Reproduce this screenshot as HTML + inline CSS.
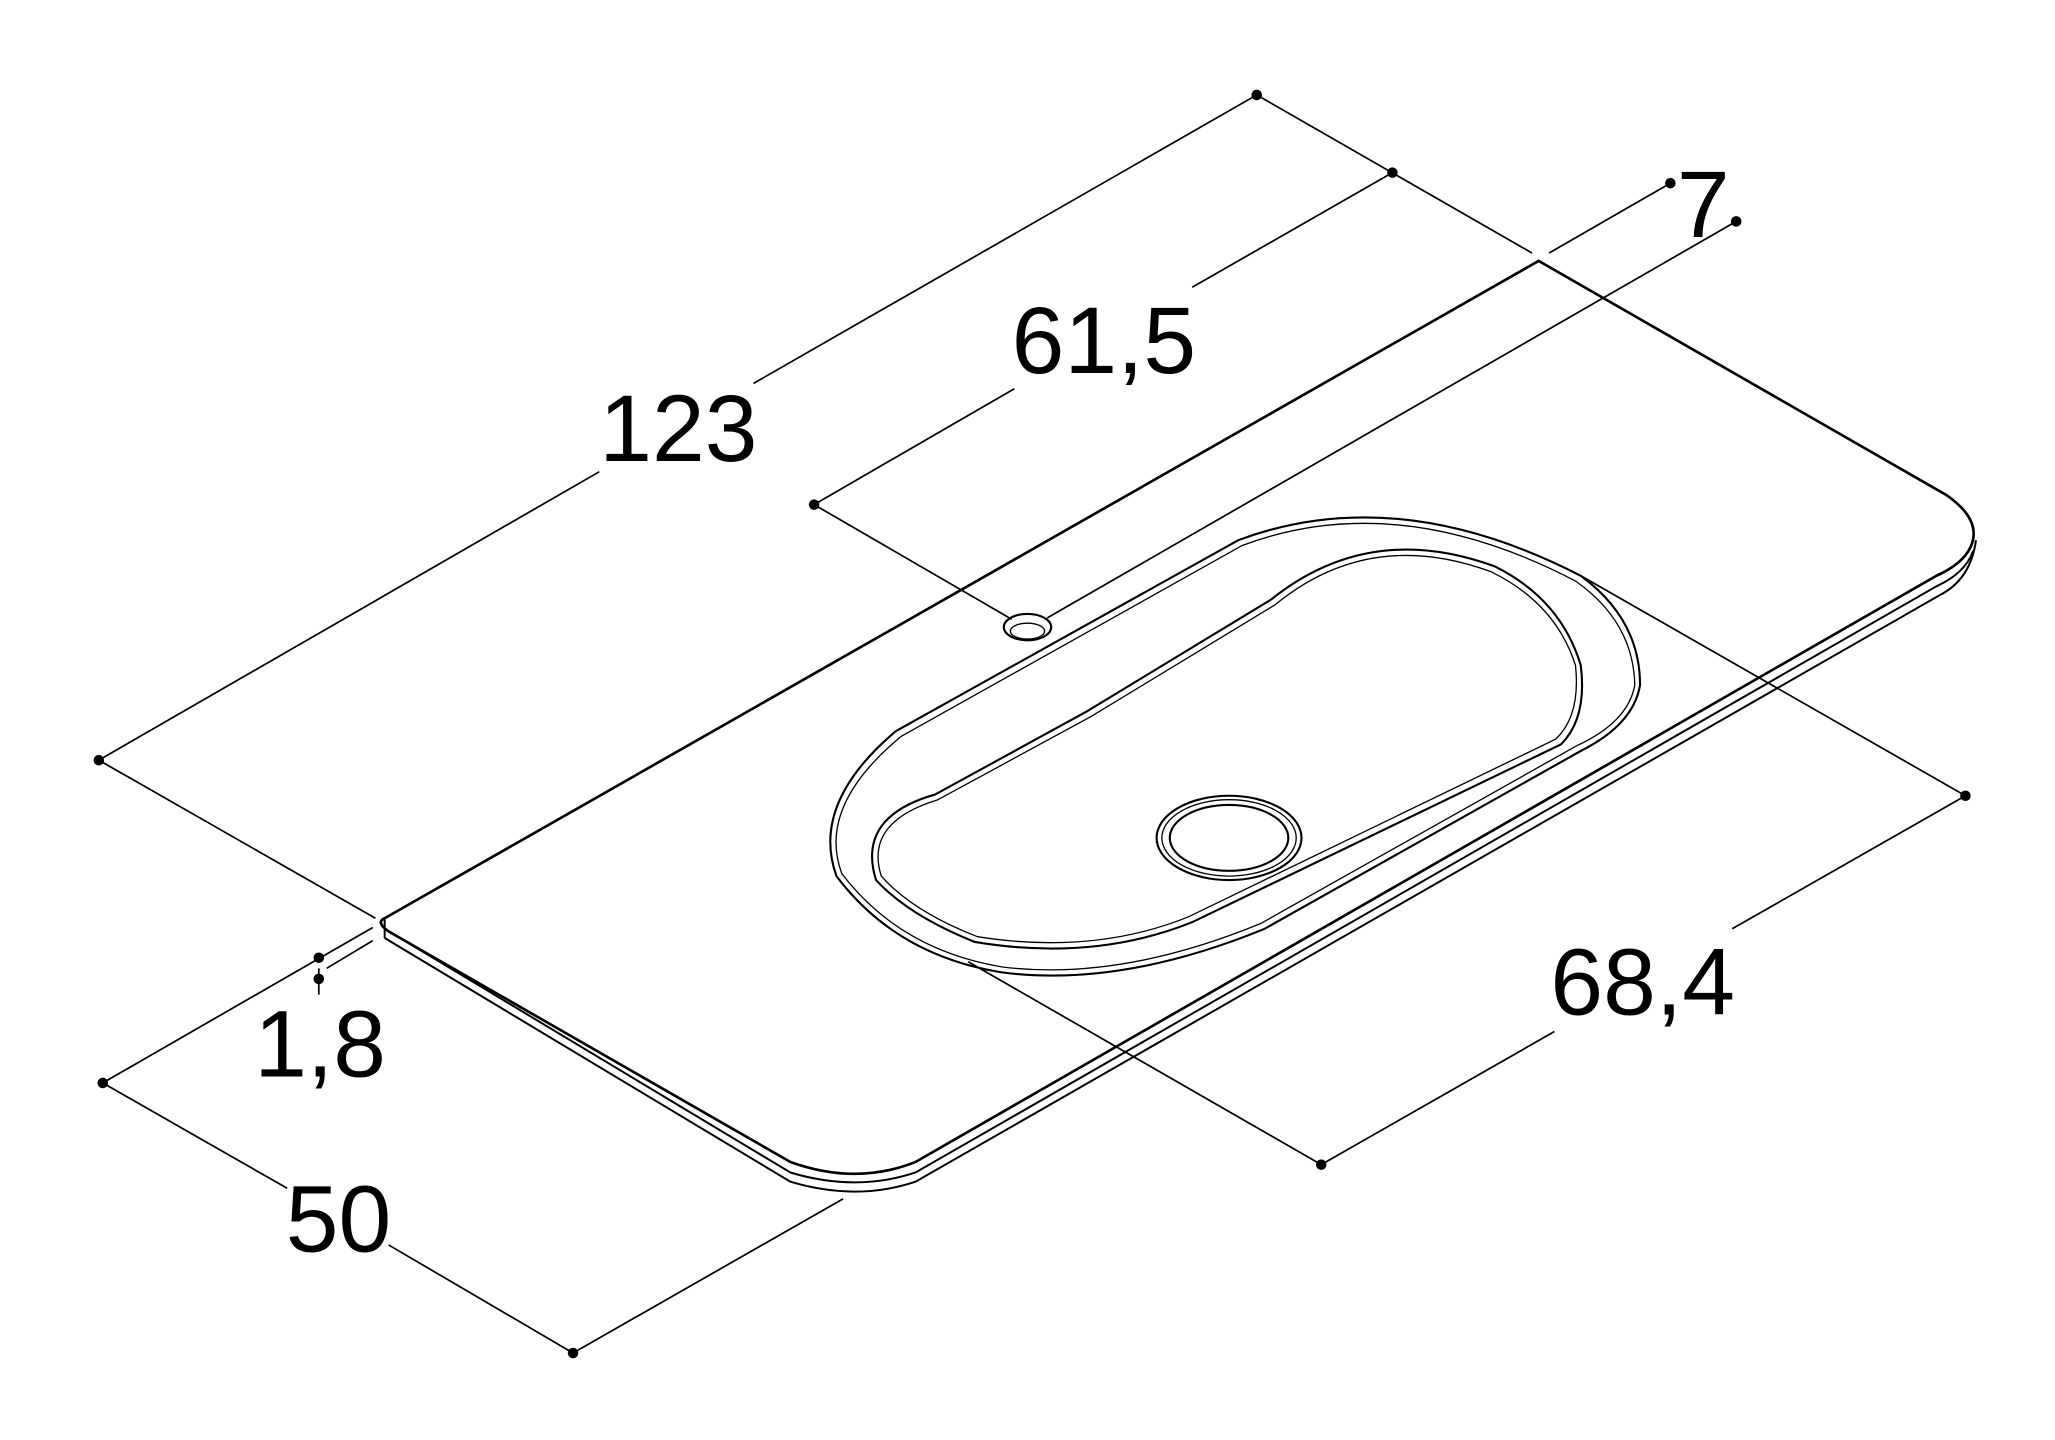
<!DOCTYPE html>
<html><head><style>html,body{margin:0;padding:0;background:#fff}svg{display:block}</style></head>
<body>
<svg width="2055" height="1440" viewBox="0 0 1560 1093" xmlns="http://www.w3.org/2000/svg" font-family="Liberation Sans, sans-serif">
<!-- slab -->
<g stroke="#000" fill="none" stroke-width="2">
<path d="M1168 198 L1478 376 Q1505 395 1496 415 Q1490 428 1470 437 L695 882 Q650 900 600 882 L295 707 Q285 700 292 697 Z"/>
<path d="M292 705 L600 890 Q650 905 695 890 L1470 445 Q1492 435 1498 418" stroke-width="1.5"/>
<path d="M292 712 L600 897 Q650 912 695 897 L1472 452 Q1496 440 1500 410" stroke-width="1.5"/>
<line x1="292" y1="697" x2="292" y2="712" stroke-width="1.5"/>
</g>
<g stroke="#000" fill="none" stroke-width="1.3">
<line x1="954" y1="72" x2="572" y2="291"/><line x1="455" y1="358" x2="75" y2="577"/>
<line x1="954" y1="72" x2="1163" y2="192"/><line x1="75" y1="577" x2="285" y2="697"/>
<line x1="1057" y1="131" x2="905" y2="218"/><line x1="770" y1="295" x2="618" y2="383"/>
<line x1="618" y1="383" x2="768" y2="470"/>
<line x1="1268" y1="139" x2="1176" y2="192"/><line x1="1318" y1="168" x2="795" y2="469"/>
<line x1="1492" y1="604" x2="1315" y2="705"/><line x1="1180" y1="783" x2="1003" y2="884"/>
<line x1="1200" y1="437" x2="1492" y2="604"/><line x1="735" y1="730" x2="1003" y2="884"/>
<line x1="78" y1="822" x2="218" y2="902"/><line x1="295" y1="945" x2="435" y2="1027"/>
<line x1="78" y1="822" x2="283" y2="704"/><line x1="435" y1="1027" x2="640" y2="910"/>
<line x1="242" y1="735" x2="242" y2="755"/><line x1="248" y1="735" x2="283" y2="714"/>
</g>
<g fill="#000">
<circle cx="954" cy="72" r="4"/><circle cx="75" cy="577" r="4"/><circle cx="1057" cy="131" r="4"/>
<circle cx="618" cy="383" r="4"/><circle cx="1268" cy="139" r="4"/><circle cx="1318" cy="168" r="4"/>
<circle cx="1492" cy="604" r="4"/><circle cx="1003" cy="884" r="4"/><circle cx="78" cy="822" r="4"/>
<circle cx="435" cy="1027" r="4"/><circle cx="242" cy="727" r="4"/><circle cx="242" cy="743" r="4"/>
</g>
<!-- basin -->
<g stroke="#000" fill="none" stroke-width="1.6">
<path d="M680 555 L940 410 Q1060 365 1200 437 Q1245 470 1245 520 Q1240 550 1200 570 L960 705 Q850 750 760 738 Q680 725 635 665 Q615 610 680 555 Z"/>
<path d="M684 559 L943 414 Q1060 370 1196 441 Q1240 472 1241 520 Q1236 548 1197 566 L957 701 Q850 745 761 734 Q683 721 639 663 Q620 612 684 559 Z" stroke-width="1"/>
<path d="M965 455 Q1040 395 1135 430 Q1185 455 1200 505 Q1205 545 1185 565 L905 700 Q830 730 740 715 Q690 695 665 668 Q650 620 710 603 L825 540 Z"/>
<path d="M968 459 Q1040 400 1132 434 Q1181 458 1196 505 Q1200 543 1181 561 L902 696 Q830 725 742 711 Q693 692 669 665 Q656 624 712 607 L828 544 Z" stroke-width="1"/>
<ellipse cx="933" cy="636" rx="55" ry="32"/>
<ellipse cx="933" cy="636" rx="51" ry="29" stroke-width="1"/>
<ellipse cx="933" cy="636" rx="45" ry="25"/>
<ellipse cx="780" cy="476" rx="18" ry="10"/>
<ellipse cx="780" cy="479" rx="13" ry="6" stroke-width="1"/>
</g>
<g font-size="72" fill="#000" text-anchor="middle">
<text x="515" y="350">123</text>
<text x="838" y="283">61,5</text>
<text x="1293" y="180">7</text>
<text x="1247" y="770">68,4</text>
<text x="257" y="950">50</text>
<text x="243" y="817">1,8</text>
</g>
</svg>
</body></html>
